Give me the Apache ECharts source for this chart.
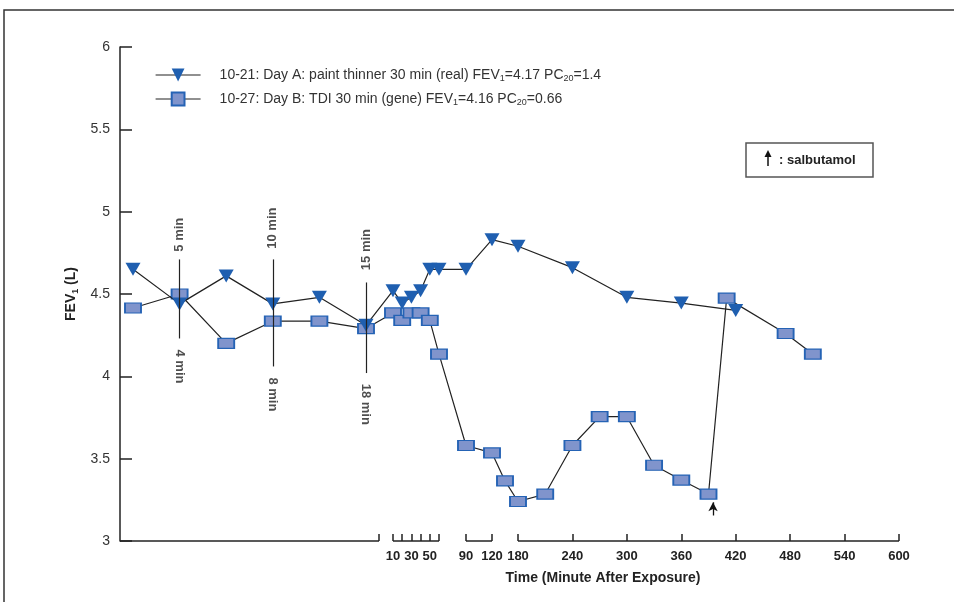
<!DOCTYPE html>
<html>
<head>
<meta charset="utf-8">
<script src="https://cdn.jsdelivr.net/npm/echarts@6/dist/echarts.min.js"></script>
<style>
  html, body { margin: 0; padding: 0; background: #fff; }
  #chart { width: 954px; height: 602px; }
</style>
</head>
<body>
<div id="chart"></div>
<script>
// pre-exposure readings (6 slots), then post-exposure readings by minute
const preValuesA = [4.65, 4.44, 4.61, 4.44, 4.48, 4.31];
const preValuesB = [4.415, 4.5, 4.2, 4.335, 4.335, 4.29];
const postTimesA = [10, 20, 30, 40, 50, 60, 90, 120, 180, 240, 300, 360, 420];
const postValuesA = [4.52, 4.445, 4.48, 4.52, 4.65, 4.65, 4.65, 4.83, 4.79, 4.66, 4.48, 4.445, 4.4];
const postTimesB = [10, 20, 30, 40, 50, 60, 90, 120, 150, 180, 210, 240, 270, 300, 330, 360, 390, 410, 475, 505];
const postValuesB = [4.385, 4.34, 4.385, 4.385, 4.34, 4.135, 3.58, 3.535, 3.365, 3.24, 3.285, 3.58, 3.755, 3.755, 3.46, 3.37, 3.285, 4.475, 4.26, 4.135];
const tickMinutes = [10, 20, 30, 40, 50, 60, 90, 120, 180, 240, 300, 360, 420, 480, 540, 600];
const labelMinutes = [10, 30, 50, 90, 120, 180, 240, 300, 360, 420, 480, 540, 600];
const axisSegments = [[10, 60], [90, 120], [180, 600]];
const doseMarks = [
  { slot: 1, above: '5 min', below: '4 min', from: 4.23, to: 4.71, aboveY: 4.86, belowY: 4.06 },
  { slot: 3, above: '10 min', below: '8 min', from: 4.06, to: 4.71, aboveY: 4.9, belowY: 3.89 },
  { slot: 5, above: '15 min', below: '18 min', from: 4.02, to: 4.57, aboveY: 4.77, belowY: 3.83 },
];
const salbutamolTime = 395;
const nameA = 'A';
const nameB = 'B';

// broken x scale: pre-exposure slots, then minutes on a compressed piecewise axis
const plotWidth = 780;
const preStart = 13, preStep = 46.6, preEnd = 259;
const timeKnots = [[10, 273], [60, 319], [90, 346], [120, 372], [180, 398], [600, 779]];
const slotPos = (i) => preStart + i * preStep;
function timePos(t) {
  for (let k = 1; k < timeKnots.length; k++) {
    const [t0, p0] = timeKnots[k - 1];
    const [t1, p1] = timeKnots[k];
    if (t <= t1 || k === timeKnots.length - 1) return p0 + (t - t0) * (p1 - p0) / (t1 - t0);
  }
}

const font = '"Liberation Sans", Arial, sans-serif';
const dataA = preValuesA.map((v, i) => [slotPos(i), v]).concat(postTimesA.map((t, i) => [timePos(t), postValuesA[i]]));
const dataB = preValuesB.map((v, i) => [slotPos(i), v]).concat(postTimesB.map((t, i) => [timePos(t), postValuesB[i]]));

const segmentLines = [[0, preEnd]].concat(axisSegments.map(([a, b]) => [timePos(a), timePos(b)]))
  .map(([a, b]) => [{ coord: [a, 3] }, { coord: [b, 3] }]);
const doseLines = doseMarks.map((d) => [{ coord: [slotPos(d.slot), d.from] }, { coord: [slotPos(d.slot), d.to] }]);
const doseLabels = [];
doseMarks.forEach((d) => {
  doseLabels.push({ value: [slotPos(d.slot), d.aboveY], text: d.above, rot: 90 });
  doseLabels.push({ value: [slotPos(d.slot), d.belowY], text: d.below, rot: -90 });
});

const chart = echarts.init(document.getElementById('chart'));
chart.setOption({
  animation: false,
  textStyle: { fontFamily: font },
  grid: { left: 120, right: 54, top: 47, bottom: 61 },
  legend: {
    data: [nameA, nameB],
    orient: 'vertical',
    left: 155,
    top: 67,
    padding: 0,
    itemWidth: 45,
    itemHeight: 16,
    itemGap: 8,
    lineStyle: { width: 1.2, color: '#222' },
    formatter: (n) => n === nameA
      ? '10-21: Day A: paint thinner 30 min (real) FEV{s|1}=4.17 PC{s|20}=1.4'
      : '10-27: Day B: TDI 30 min (gene) FEV{s|1}=4.16 PC{s|20}=0.66',
    textStyle: {
      fontFamily: font, fontSize: 14, color: '#333', lineHeight: 16, padding: [0, 0, 0, 14],
      rich: { s: { fontFamily: font, fontSize: 9, color: '#333', lineHeight: 10, verticalAlign: 'bottom' } },
    },
  },
  xAxis: {
    type: 'value',
    min: 0,
    max: plotWidth,
    axisLine: { show: false },
    splitLine: { show: false },
    axisTick: {
      show: true, inside: true, length: 7,
      customValues: [preEnd].concat(tickMinutes.map(timePos)),
      lineStyle: { color: '#222', width: 1.5 },
    },
    axisLabel: {
      customValues: labelMinutes.map(timePos),
      formatter: (v) => {
        const m = labelMinutes.find((t) => Math.abs(timePos(t) - v) < 0.5);
        return m === undefined ? '' : String(m);
      },
      fontFamily: font, fontSize: 13, fontWeight: 'bold', color: '#222', margin: 9,
    },
  },
  yAxis: {
    type: 'value',
    min: 3,
    max: 6,
    interval: 0.5,
    name: 'FEV{s|1} (L)',
    nameLocation: 'middle',
    nameGap: 39,
    nameRotate: 90,
    nameTextStyle: {
      fontFamily: font, fontSize: 14, fontWeight: 'bold', color: '#222', lineHeight: 16,
      rich: { s: { fontFamily: font, fontSize: 9, fontWeight: 'bold', color: '#222', lineHeight: 10, verticalAlign: 'bottom' } },
    },
    axisLine: { show: true, lineStyle: { color: '#222', width: 1.5 } },
    axisTick: { show: true, inside: true, length: 12, lineStyle: { color: '#222', width: 1.5 } },
    axisLabel: { fontFamily: font, fontSize: 14, color: '#333', margin: 10 },
    splitLine: { show: false },
  },
  series: [
    {
      name: 'axis',
      type: 'line',
      data: [],
      silent: true,
      markLine: {
        silent: true,
        symbol: ['none', 'none'],
        label: { show: false },
        lineStyle: { color: '#222', width: 1.5, type: 'solid' },
        data: segmentLines,
      },
    },
    {
      name: 'dose',
      type: 'scatter',
      data: doseLabels.map((d) => ({ value: d.value, label: { rotate: d.rot, formatter: d.text } })),
      symbolSize: 0,
      silent: true,
      label: {
        show: true, position: 'inside', color: '#222',
        fontFamily: font, fontSize: 13, fontWeight: 'bold',
      },
      markLine: {
        silent: true,
        symbol: ['none', 'none'],
        label: { show: false },
        lineStyle: { color: '#222', width: 1.2, type: 'solid' },
        data: doseLines,
      },
    },
    {
      name: nameB,
      type: 'line',
      data: dataB,
      symbol: 'rect',
      symbolSize: [16, 10],
      lineStyle: { color: '#222', width: 1.2 },
      itemStyle: { color: '#8094cc', borderColor: '#2563b5', borderWidth: 1.5 },
      markLine: {
        silent: true,
        symbol: ['none', 'arrow'],
        symbolSize: [7, 9],
        label: { show: false },
        lineStyle: { color: '#111', width: 1.3, type: 'solid' },
        data: [[{ coord: [timePos(salbutamolTime), 3.155] }, { coord: [timePos(salbutamolTime), 3.235] }]],
      },
      z: 3,
    },
    {
      name: nameA,
      type: 'line',
      data: dataA,
      symbol: 'triangle',
      symbolRotate: 180,
      symbolSize: [15, 13],
      lineStyle: { color: '#222', width: 1.2 },
      itemStyle: { color: '#1f5fb0' },
      z: 4,
    },
  ],
  graphic: [
    {
      type: 'polyline',
      shape: { points: [[4, 602], [4, 10], [954, 10]] },
      style: { stroke: '#333', lineWidth: 1.5, fill: null },
    },
    {
      type: 'rect',
      shape: { x: 746, y: 143, width: 127, height: 34 },
      style: { stroke: '#555', lineWidth: 1.5, fill: '#fff' },
    },
    {
      type: 'line',
      shape: { x1: 768, y1: 156, x2: 768, y2: 166 },
      style: { stroke: '#111', lineWidth: 1.5 },
    },
    {
      type: 'polygon',
      shape: { points: [[764.5, 157], [771.5, 157], [768, 150]] },
      style: { fill: '#111' },
    },
    {
      type: 'text',
      x: 779, y: 160,
      style: { text: ': salbutamol', font: 'bold 13px ' + font, fill: '#222', verticalAlign: 'middle' },
    },
    {
      type: 'text',
      x: 603, y: 578,
      style: { text: 'Time (Minute After Exposure)', font: 'bold 14px ' + font, fill: '#222', align: 'center', verticalAlign: 'middle' },
    },
  ],
});
</script>
</body>
</html>
